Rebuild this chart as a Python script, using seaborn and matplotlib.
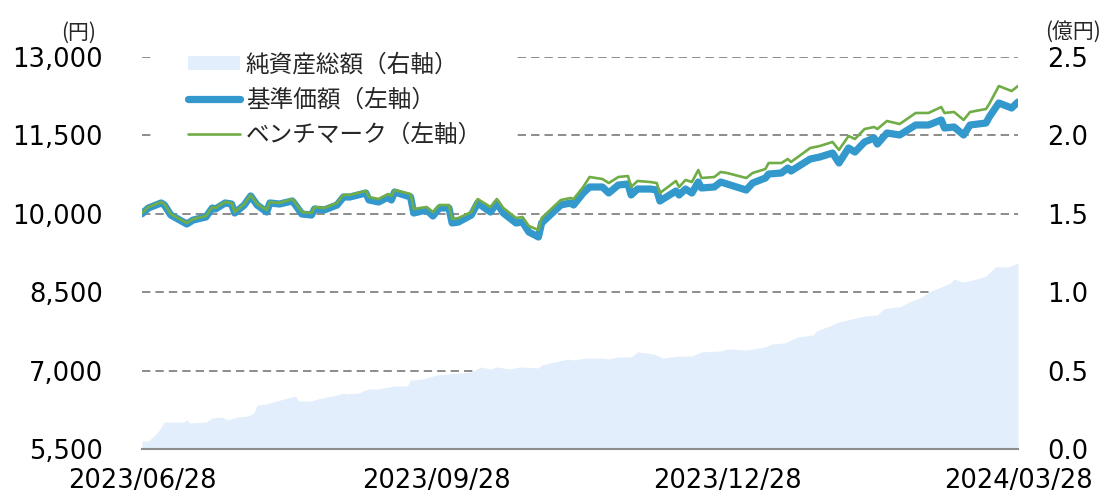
import pandas as pd
import matplotlib
matplotlib.use("Agg")
import matplotlib.pyplot as plt
import matplotlib.dates as mdates
from matplotlib.patches import Patch
from matplotlib.lines import Line2D
from matplotlib.ticker import FuncFormatter
import seaborn as sns

# 基準価額 / ベンチマーク (left axis, yen)
line_dates = [
    "2023-06-28", "2023-06-30", "2023-07-04", "2023-07-05", "2023-07-07", "2023-07-12",
    "2023-07-14", "2023-07-18", "2023-07-20", "2023-07-21", "2023-07-24", "2023-07-26",
    "2023-07-27", "2023-07-30", "2023-08-01", "2023-08-03", "2023-08-06", "2023-08-07",
    "2023-08-10", "2023-08-14", "2023-08-15", "2023-08-17", "2023-08-20", "2023-08-21",
    "2023-08-24", "2023-08-28", "2023-08-30", "2023-09-01", "2023-09-06", "2023-09-07",
    "2023-09-10", "2023-09-13", "2023-09-14", "2023-09-15", "2023-09-20", "2023-09-21",
    "2023-09-25", "2023-09-27", "2023-09-29", "2023-10-02", "2023-10-03", "2023-10-05",
    "2023-10-09", "2023-10-11", "2023-10-15", "2023-10-17", "2023-10-19", "2023-10-23",
    "2023-10-25", "2023-10-27", "2023-10-30", "2023-10-31", "2023-11-06", "2023-11-09",
    "2023-11-10", "2023-11-13", "2023-11-15", "2023-11-19", "2023-11-21", "2023-11-24",
    "2023-11-27", "2023-11-28", "2023-11-30", "2023-12-04", "2023-12-06", "2023-12-07",
    "2023-12-12", "2023-12-13", "2023-12-15", "2023-12-17", "2023-12-19", "2023-12-20",
    "2023-12-24", "2023-12-26", "2023-12-28", "2024-01-03", "2024-01-05", "2024-01-09",
    "2024-01-10", "2024-01-14", "2024-01-16", "2024-01-17", "2024-01-23", "2024-01-26",
    "2024-01-30", "2024-02-01", "2024-02-04", "2024-02-06", "2024-02-09", "2024-02-12",
    "2024-02-13", "2024-02-16", "2024-02-20", "2024-02-25", "2024-02-29", "2024-03-04",
    "2024-03-05", "2024-03-08", "2024-03-11", "2024-03-13", "2024-03-18", "2024-03-19",
    "2024-03-22", "2024-03-26", "2024-03-28",
]
nav = [
    10000, 10111, 10207, 10168, 9977, 9805, 9881, 9939, 10111, 10092, 10207, 10187,
    10015, 10168, 10341, 10168, 10034, 10207, 10187, 10245, 10168, 9996, 9977, 10092,
    10073, 10168, 10321, 10321, 10398, 10264, 10226, 10321, 10264, 10417, 10321, 10015,
    10073, 9958, 10111, 10111, 9824, 9843, 9977, 10207, 10034, 10207, 10015, 9824,
    9843, 9652, 9556, 9824, 10168, 10207, 10168, 10398, 10513, 10513, 10398, 10551,
    10570, 10360, 10474, 10474, 10455, 10245, 10436, 10360, 10474, 10398, 10608, 10494,
    10513, 10608, 10570, 10455, 10589, 10685, 10761, 10781, 10876, 10819, 11048, 11087,
    11163, 10972, 11259, 11182, 11374, 11450, 11335, 11546, 11508, 11699, 11699, 11795,
    11642, 11661, 11508, 11699, 11737, 11852, 12120, 12024, 12139,
]
benchmark = [
    10015, 10130, 10226, 10187, 9996, 9824, 9900, 9958, 10130, 10111, 10226, 10207,
    10034, 10187, 10360, 10187, 10073, 10226, 10207, 10283, 10207, 10034, 10015, 10130,
    10111, 10207, 10360, 10360, 10436, 10321, 10283, 10379, 10341, 10455, 10379, 10092,
    10130, 10034, 10168, 10168, 9900, 9920, 10034, 10283, 10130, 10283, 10111, 9920,
    9939, 9766, 9690, 9920, 10264, 10302, 10283, 10513, 10704, 10666, 10589, 10704,
    10723, 10513, 10628, 10608, 10589, 10398, 10628, 10513, 10647, 10608, 10838, 10685,
    10704, 10800, 10781, 10685, 10781, 10857, 10972, 10972, 11048, 10991, 11259, 11297,
    11374, 11221, 11489, 11431, 11622, 11661, 11622, 11775, 11718, 11929, 11929, 12043,
    11929, 11948, 11795, 11948, 12005, 12101, 12445, 12349, 12445,
]

# 純資産総額 (right axis, 億円)
asset_dates = [
    "2023-06-28", "2023-06-30", "2023-07-03", "2023-07-05", "2023-07-11", "2023-07-12",
    "2023-07-13", "2023-07-18", "2023-07-20", "2023-07-23", "2023-07-25", "2023-07-28",
    "2023-07-31", "2023-08-02", "2023-08-03", "2023-08-06", "2023-08-08", "2023-08-15",
    "2023-08-16", "2023-08-20", "2023-08-22", "2023-08-25", "2023-08-28", "2023-08-30",
    "2023-08-31", "2023-09-04", "2023-09-05", "2023-09-07", "2023-09-10", "2023-09-15",
    "2023-09-19", "2023-09-20", "2023-09-24", "2023-09-28", "2023-10-09", "2023-10-12",
    "2023-10-15", "2023-10-17", "2023-10-21", "2023-10-24", "2023-10-30", "2023-10-31",
    "2023-11-07", "2023-11-08", "2023-11-10", "2023-11-14", "2023-11-19", "2023-11-21",
    "2023-11-24", "2023-11-28", "2023-11-30", "2023-12-05", "2023-12-08", "2023-12-13",
    "2023-12-17", "2023-12-20", "2023-12-26", "2023-12-28", "2024-01-03", "2024-01-09",
    "2024-01-11", "2024-01-15", "2024-01-19", "2024-01-24", "2024-01-25", "2024-01-29",
    "2024-01-31", "2024-02-01", "2024-02-05", "2024-02-09", "2024-02-13", "2024-02-15",
    "2024-02-19", "2024-02-20", "2024-02-23", "2024-02-27", "2024-02-29", "2024-03-04",
    "2024-03-07", "2024-03-08", "2024-03-11", "2024-03-15", "2024-03-18", "2024-03-21",
    "2024-03-25", "2024-03-28",
]
net_assets = [
    0.051, 0.051, 0.108, 0.172, 0.172, 0.185, 0.166, 0.172, 0.198, 0.204, 0.185, 0.204,
    0.210, 0.230, 0.281, 0.287, 0.300, 0.338, 0.306, 0.306, 0.319, 0.332, 0.344, 0.357,
    0.351, 0.357, 0.370, 0.383, 0.383, 0.402, 0.402, 0.440, 0.446, 0.472, 0.491, 0.523,
    0.510, 0.523, 0.510, 0.523, 0.517, 0.536, 0.568, 0.574, 0.568, 0.580, 0.580, 0.574,
    0.587, 0.587, 0.619, 0.606, 0.580, 0.593, 0.593, 0.619, 0.625, 0.638, 0.631, 0.651,
    0.670, 0.676, 0.714, 0.727, 0.753, 0.784, 0.804, 0.810, 0.829, 0.848, 0.855, 0.893,
    0.906, 0.906, 0.938, 0.969, 1.001, 1.033, 1.059, 1.084, 1.065, 1.084, 1.103, 1.161,
    1.161, 1.186,
]

left_ticks = [5500, 7000, 8500, 10000, 11500, 13000]
right_ticks = [0.0, 0.5, 1.0, 1.5, 2.0, 2.5]
x_ticks = ["2023-06-28", "2023-09-28", "2023-12-28", "2024-03-28"]

labels = ["純資産総額（右軸）", "基準価額（左軸）", "ベンチマーク（左軸）"]

AREA_COLOR = "#E2EEFB"
NAV_COLOR = "#3399CC"
BM_COLOR = "#70AD47"
GRID_COLOR = "#8C8C8C"

sns.set_theme(style="white")
plt.rcParams["font.family"] = ["DejaVu Sans", "Noto Sans CJK JP"]

lines_df = pd.DataFrame({
    "date": pd.to_datetime(line_dates),
    "nav": nav,
    "benchmark": benchmark,
})
assets_df = pd.DataFrame({
    "date": pd.to_datetime(asset_dates),
    "assets": net_assets,
})

fig = plt.figure(figsize=(11.01, 4.98), dpi=100)
ax = fig.add_axes([142 / 1101, 1 - 449 / 498, 876 / 1101, 392 / 498])
ax2 = ax.twinx()

# area on the right axis, drawn underneath the lines
ax2.set_axisbelow(True)
ax2.fill_between(assets_df["date"], assets_df["assets"], 0,
                 color=AREA_COLOR, linewidth=0, zorder=1)
ax2.yaxis.grid(True, color=GRID_COLOR, linestyle=(0, (4.3, 2.6)), linewidth=1.4)
ax2.xaxis.grid(False)

sns.lineplot(data=lines_df, x="date", y="nav", ax=ax, color=NAV_COLOR,
             linewidth=5.2, solid_joinstyle="round", solid_capstyle="round",
             legend=False, zorder=3)
sns.lineplot(data=lines_df, x="date", y="benchmark", ax=ax, color=BM_COLOR,
             linewidth=1.9, solid_joinstyle="round", legend=False, zorder=4)

ax.set_zorder(ax2.get_zorder() + 1)
ax.patch.set_visible(False)

start, end = pd.Timestamp("2023-06-28"), pd.Timestamp("2024-03-28")
ax.set_xlim(start, end)
ax.set_ylim(5500, 13000)
ax2.set_ylim(0, 2.5)

ax.set_xticks(pd.to_datetime(x_ticks))
ax.xaxis.set_major_formatter(mdates.DateFormatter("%Y/%m/%d"))
ax.set_yticks(left_ticks)
ax.yaxis.set_major_formatter(FuncFormatter(lambda v, p: f"{int(v):,}"))
ax2.set_yticks(right_ticks)
ax2.yaxis.set_major_formatter(FuncFormatter(lambda v, p: f"{v:.1f}"))

ax.tick_params(axis="y", length=0, pad=28, labelsize=18.5, colors="#000000")
ax.tick_params(axis="x", length=0, pad=14, labelsize=18.5, colors="#000000")
ax2.tick_params(axis="y", length=0, pad=21, labelsize=18.5, colors="#000000")
for lab in ax2.get_yticklabels():
    lab.set_horizontalalignment("left")

ax.set_xlabel("")
ax.set_ylabel("")
ax2.set_ylabel("")

for a in (ax, ax2):
    for side in ("top", "left", "right", "bottom"):
        a.spines[side].set_visible(False)
ax.spines["bottom"].set_visible(True)
ax.spines["bottom"].set_color(GRID_COLOR)
ax.spines["bottom"].set_linewidth(1.5)

fig.text(79 / 1101, 1 - 33 / 498, "(円)", ha="center", va="center",
         fontsize=15, family=["Noto Sans CJK JP", "DejaVu Sans"])
fig.text(1045 / 1101, 1 - 32 / 498, "(億円)", ha="left", va="center",
         fontsize=15, family=["Noto Sans CJK JP", "DejaVu Sans"])

handles = [
    Patch(facecolor=AREA_COLOR, edgecolor="none"),
    Line2D([], [], color=NAV_COLOR, linewidth=5.2, solid_capstyle="round"),
    Line2D([], [], color=BM_COLOR, linewidth=1.9),
]
leg = ax.legend(handles, labels, loc="upper left",
                bbox_to_anchor=(155 / 1101, 1 - 20 / 498),
                bbox_transform=fig.transFigure, frameon=True, fancybox=False,
                framealpha=1.0, facecolor="white", edgecolor="none",
                borderpad=1.4, borderaxespad=0, handlelength=2.2,
                handleheight=0.55, handletextpad=0.25, labelspacing=0.52,
                prop={"family": ["Noto Sans CJK JP", "DejaVu Sans"], "size": 17})
leg.set_zorder(10)

fig.savefig("out.png", dpi=100)
